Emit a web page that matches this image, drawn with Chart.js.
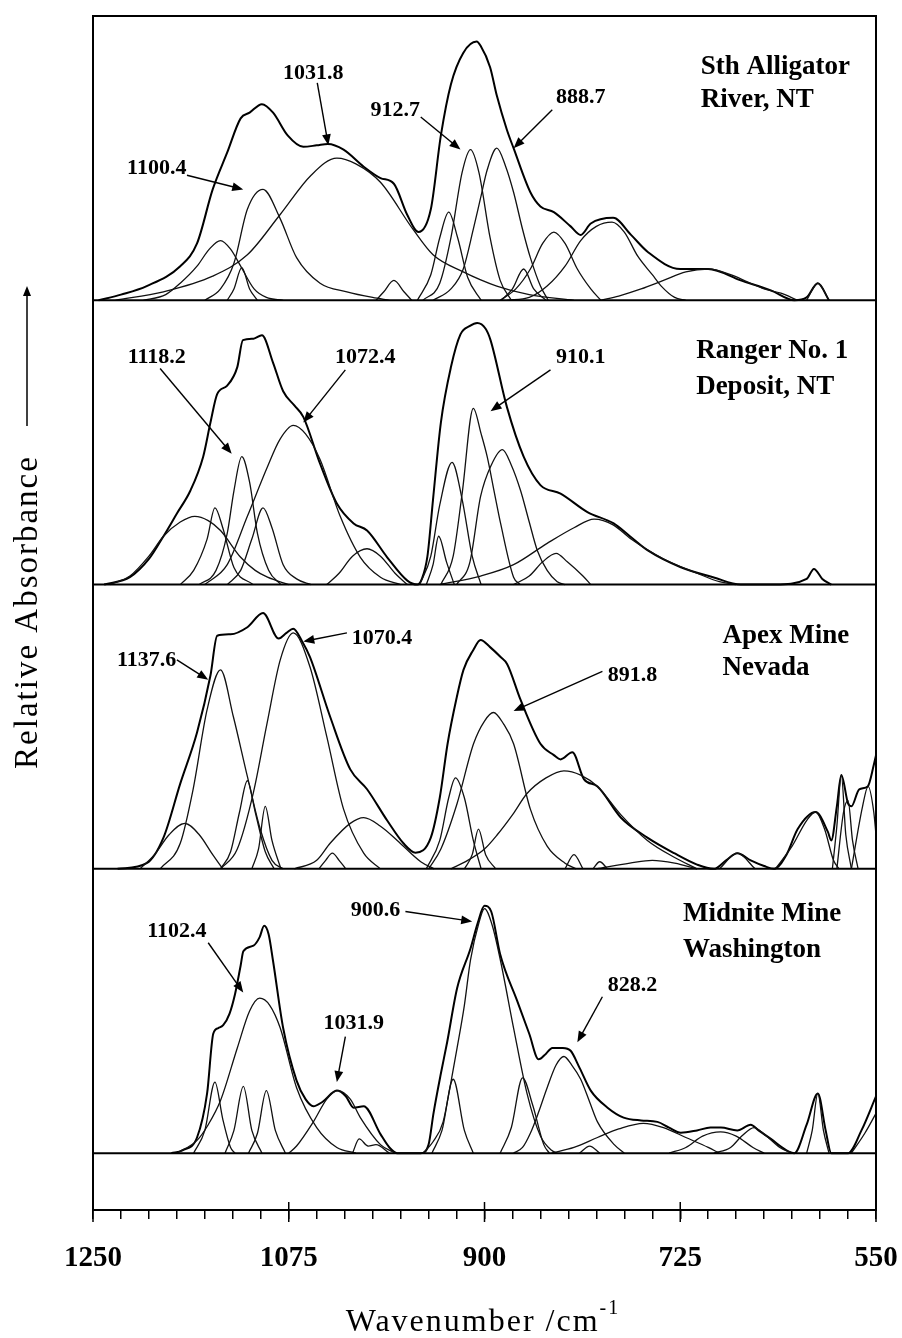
<!DOCTYPE html>
<html>
<head>
<meta charset="utf-8">
<script src="https://cdn.jsdelivr.net/npm/chart.js@4.4.0/dist/chart.umd.min.js"></script>
<style>
  html, body { margin: 0; padding: 0; background: #fff; }
  #wrap { width: 902px; height: 1338px; }
</style>
</head>
<body>
<div id="wrap"><canvas id="spectra" width="902" height="1338"></canvas></div>
<script>
// x: wavenumber (cm-1), y: relative absorbance inside each panel (0 = panel baseline)
const majorTicks = [1250, 1075, 900, 725, 550];
const panelOffsets = [3.2, 2.2, 1.2, 0.2];
const sampleNames = [
    ['Sth Alligator', 'River, NT'],
    ['Ranger No. 1', 'Deposit, NT'],
    ['Apex Mine', 'Nevada'],
    ['Midnite Mine', 'Washington']
];

// Sth Alligator River
const alligatorTotal = [[1245,0],[1225,0.02],[1202,0.05],[1172,0.12],[1157,0.20],[1143,0.39],[1130,0.52],[1118,0.64],[1110,0.66],[1099,0.69],[1089,0.66],[1076,0.58],[1062,0.54],[1050,0.545],[1040,0.55],[1026,0.53],[1008,0.47],[993,0.43],[981,0.41],[969,0.30],[959,0.24],[948,0.32],[939,0.58],[930,0.76],[919,0.87],[907,0.91],[903.5,0.895],[895,0.82],[889,0.72],[880,0.60],[874,0.535],[859,0.38],[850,0.33],[838,0.31],[823,0.26],[814,0.23],[805,0.27],[785,0.29],[769,0.23],[754,0.17],[725,0.11],[700,0.11],[671,0.07],[644,0.035],[623,0],[612,0.01],[602,0.06],[592,0]];
const alligatorBands = [
    [[1205,0],[1185,0.02],[1172,0.06],[1157,0.12],[1146,0.18],[1136,0.21],[1127,0.18],[1118,0.12],[1106,0.04],[1095,0.01],[1080,0]],
    [[1130,0],[1124,0.04],[1117,0.115],[1110,0.04],[1103,0]],
    [[1150,0],[1136,0.04],[1124,0.13],[1112,0.32],[1098,0.39],[1083,0.29],[1068,0.15],[1047,0.06],[1023,0.03],[1000,0.01],[985,0]],
    [[1230,0],[1187,0.03],[1143,0.085],[1112,0.16],[1083,0.30],[1055,0.44],[1032,0.50],[1015,0.48],[993,0.415],[964,0.25],[946,0.16],[919,0.10],[889,0.05],[860,0.02],[820,0]],
    [[997,0],[990,0.03],[981,0.07],[972,0.03],[965,0]],
    [[960,0],[948,0.09],[940,0.22],[932,0.31],[924,0.22],[915,0.08],[903,0]],
    [[955,0],[940,0.06],[930,0.22],[920,0.45],[912.5,0.53],[905,0.45],[895,0.22],[886,0.07],[876,0]],
    [[946,0],[930,0.04],[919,0.11],[910,0.25],[903.5,0.36],[897.5,0.46],[889,0.535],[881,0.47],[874,0.38],[866,0.25],[859,0.15],[850,0.05],[843,0]],
    [[885,0],[875,0.04],[865,0.11],[856,0.04],[845,0]],
    [[886,0],[872,0.04],[859,0.11],[848,0.20],[838,0.24],[828,0.20],[817,0.11],[805,0.04],[796,0]],
    [[880,0],[860,0.01],[844,0.05],[828,0.12],[814,0.21],[800,0.26],[786,0.275],[775,0.24],[763,0.155],[750,0.09],[742,0.05],[730,0.01],[720,0]],
    [[796,0],[780,0.015],[760,0.04],[740,0.07],[720,0.10],[700,0.11],[680,0.09],[665,0.065],[650,0.04],[635,0.025],[620,0]],
    [[612,0],[602,0.06],[592,0]]
];

// Ranger No. 1 Deposit
const rangerTotal = [[1240,0],[1217,0.026],[1200,0.09],[1187,0.17],[1175,0.25],[1163,0.33],[1151.5,0.45],[1145,0.57],[1139,0.67],[1130,0.70],[1121,0.765],[1116,0.86],[1106.5,0.865],[1099,0.877],[1089,0.78],[1080,0.68],[1070,0.63],[1062,0.59],[1047,0.425],[1032,0.285],[1017,0.215],[1005,0.19],[987,0.096],[969,0.014],[960,0],[956,0.02],[951,0.10],[946,0.30],[939,0.57],[930,0.765],[921.5,0.88],[913,0.91],[906.5,0.92],[899,0.90],[894.6,0.86],[880,0.625],[865,0.45],[850,0.35],[832,0.32],[808,0.255],[784.5,0.215],[770,0.17],[754,0.12],[724.5,0.061],[695,0.025],[671,0],[640,0],[612,0.02],[605.5,0.055],[598,0.02],[590,0]];
const rangerBands = [
    [[1235,0],[1217,0.03],[1200,0.10],[1187,0.17],[1172,0.22],[1159,0.24],[1147,0.225],[1136,0.19],[1118,0.096],[1105,0.05],[1094,0.026],[1075,0]],
    [[1172,0],[1160,0.05],[1148,0.16],[1141,0.27],[1134,0.20],[1124,0.06],[1107,0]],
    [[1155,0],[1140,0.05],[1130,0.18],[1124,0.33],[1117,0.45],[1110,0.36],[1103,0.18],[1093,0.05],[1082,0]],
    [[1130,0],[1118,0.05],[1108,0.16],[1098,0.27],[1090,0.20],[1080,0.07],[1068,0.02],[1055,0]],
    [[1150,0],[1130,0.07],[1112,0.24],[1094.5,0.41],[1083,0.51],[1071,0.56],[1060,0.53],[1047,0.44],[1029,0.24],[1011,0.096],[993,0.026],[975,0]],
    [[1041,0],[1030,0.04],[1018,0.10],[1005,0.126],[993,0.10],[980,0.04],[969,0]],
    [[952,0],[946,0.07],[941,0.17],[934,0.08],[927,0]],
    [[958,0],[948,0.10],[940,0.28],[929,0.43],[920,0.30],[911,0.10],[903,0]],
    [[939,0],[928,0.10],[920,0.32],[910,0.62],[903,0.53],[897.6,0.45],[891,0.32],[885.6,0.215],[874,0.026],[868,0]],
    [[925,0],[913,0.08],[903.5,0.31],[894,0.42],[884,0.475],[876,0.42],[867.7,0.33],[860,0.22],[852.8,0.12],[844,0.05],[835,0.01],[828,0]],
    [[874,0],[860,0.03],[848,0.08],[836,0.11],[826,0.08],[812,0.03],[805,0]],
    [[940,0],[903.5,0.03],[874,0.07],[844,0.145],[820,0.20],[802,0.23],[785,0.21],[769,0.16],[740,0.09],[710,0.04],[690,0.01],[675,0]]
];

// Apex Mine, Nevada
const apexTotal = [[1228,0],[1202,0.02],[1187,0.11],[1172,0.30],[1157,0.48],[1145,0.68],[1139,0.82],[1127,0.825],[1112,0.85],[1098,0.90],[1084,0.81],[1077,0.83],[1071,0.845],[1063,0.80],[1056,0.745],[1038,0.535],[1020,0.35],[1005,0.28],[987,0.17],[972.5,0.09],[961.7,0.057],[948,0.11],[940,0.25],[933,0.44],[925,0.60],[918.8,0.70],[910,0.77],[903.5,0.805],[895,0.78],[885.6,0.745],[879.7,0.72],[867.8,0.595],[850,0.44],[838,0.40],[832,0.385],[821.5,0.41],[811,0.315],[799,0.29],[778,0.18],[754.4,0.11],[730.4,0.055],[710,0.015],[695,0],[684,0.03],[674,0.055],[662,0.03],[650,0.01],[641,0],[630,0.05],[620,0.14],[604,0.20],[593,0.13],[590,0.10],[585,0.22],[581,0.33],[575,0.23],[572,0.22],[565,0.28],[557.4,0.29],[552,0.365],[550,0.40]];
const apexBands = [
    [[1208,0],[1195,0.05],[1182,0.12],[1168,0.16],[1155,0.12],[1143,0.05],[1134,0]],
    [[1190,0],[1172,0.09],[1160.5,0.28],[1148,0.56],[1136,0.70],[1124.5,0.535],[1112,0.325],[1100.5,0.14],[1090,0.03],[1080,0]],
    [[1136,0],[1127,0.06],[1119,0.20],[1112,0.31],[1105,0.20],[1096,0.06],[1088,0]],
    [[1108,0],[1102,0.07],[1096,0.22],[1090,0.10],[1082,0]],
    [[1136,0],[1121,0.07],[1106.5,0.27],[1094.5,0.51],[1082.6,0.735],[1071,0.83],[1056,0.71],[1041,0.465],[1026,0.21],[1008,0.055],[993,0]],
    [[1048,0],[1042,0.03],[1036,0.055],[1030,0.03],[1024,0]],
    [[1070,0],[1050,0.03],[1038,0.09],[1020,0.16],[1008,0.18],[993,0.15],[978,0.10],[957,0.025],[945,0]],
    [[952,0],[940,0.10],[932,0.25],[926,0.32],[918,0.25],[910,0.10],[903,0]],
    [[918,0],[911,0.05],[905.4,0.14],[899,0.05],[890,0]],
    [[950,0],[939,0.07],[924.5,0.23],[909.8,0.44],[900,0.52],[892,0.55],[883,0.51],[874,0.44],[859,0.21],[844,0.08],[828,0.02],[818,0]],
    [[930,0],[915,0.03],[900,0.07],[888.6,0.12],[875,0.19],[862,0.265],[845,0.32],[829,0.345],[814,0.33],[799,0.29],[778,0.19],[754.4,0.10],[730,0.04],[710,0]],
    [[828,0],[820,0.05],[812,0]],
    [[803,0],[797,0.025],[790,0]],
    [[800,0],[770,0.02],[750,0.03],[730,0.02],[710,0]],
    [[690,0],[674,0.055],[658,0]],
    [[640,0],[625,0.08],[612,0.17],[604,0.20],[596,0.14],[588,0.03],[583,0]],
    [[589,0],[585,0.15],[581,0.33],[577,0.12],[572,0]],
    [[585,0],[579,0.20],[575,0.24],[571,0.10],[566,0]],
    [[572,0],[562,0.22],[557,0.29],[552,0.20],[550,0.12]]
];

// Midnite Mine, Washington
const midniteTotal = [[1180,0],[1170,0.01],[1157,0.055],[1148,0.21],[1142.5,0.42],[1138,0.44],[1133.6,0.45],[1128,0.49],[1123,0.56],[1118,0.66],[1115.6,0.71],[1106.5,0.73],[1101,0.76],[1097,0.80],[1093,0.77],[1089,0.675],[1080,0.44],[1068,0.255],[1060,0.19],[1053,0.165],[1045,0.18],[1032,0.22],[1024,0.20],[1017,0.16],[1008,0.165],[993,0.067],[985,0.02],[978,0],[957,0],[950,0.03],[945.6,0.14],[939,0.28],[933.4,0.39],[924.5,0.58],[912.5,0.72],[906,0.81],[900,0.87],[894,0.85],[886,0.70],[870.7,0.535],[860,0.42],[851.6,0.33],[845,0.35],[839.4,0.37],[830,0.37],[823,0.36],[815,0.30],[805,0.22],[790,0.16],[775.6,0.125],[760,0.115],[745.4,0.11],[735,0.09],[724.5,0.072],[710,0.08],[698,0.09],[688.7,0.09],[674,0.08],[662,0.10],[655,0.08],[644,0.05],[630,0.01],[623,0],[612,0.10],[602,0.21],[595,0.08],[590,0],[575,0],[563,0.08],[550,0.20]];
const midniteBands = [
    [[1160,0],[1150,0.08],[1141,0.25],[1134,0.12],[1127,0.02],[1123,0]],
    [[1175,0],[1157,0.045],[1147,0.10],[1136,0.185],[1121,0.37],[1110,0.50],[1101,0.545],[1092,0.52],[1082.6,0.44],[1068,0.23],[1050,0.09],[1032,0.02],[1015,0]],
    [[1132,0],[1124,0.08],[1115.6,0.235],[1108,0.08],[1099,0]],
    [[1111,0],[1103,0.07],[1095,0.22],[1087,0.08],[1078,0]],
    [[1075,0],[1068,0.025],[1053,0.11],[1041,0.19],[1031,0.22],[1020,0.19],[1011,0.125],[993,0.03],[980,0]],
    [[1018,0],[1012,0.05],[1004,0.025],[997,0.03],[985,0]],
    [[955,0],[946,0.04],[937,0.11],[930,0.25],[924.5,0.37],[918,0.52],[912.5,0.68],[905,0.81],[900,0.86],[893,0.80],[885.6,0.675],[874,0.44],[862,0.21],[850,0.06],[840,0.01],[835,0]],
    [[947,0],[938,0.08],[928,0.26],[918,0.08],[910,0]],
    [[886,0],[876,0.09],[866,0.265],[857,0.17],[847,0.03],[842,0]],
    [[874,0],[866,0.02],[859,0.07],[852,0.14],[844,0.23],[836,0.31],[829,0.34],[822,0.31],[814,0.26],[806,0.18],[799,0.11],[784,0.03],[775,0]],
    [[840,0],[820,0.02],[799,0.055],[780,0.085],[758,0.105],[740,0.09],[720,0.055],[700,0.02],[690,0]],
    [[815,0],[806,0.025],[797,0]],
    [[735,0],[720,0.02],[705,0.06],[689,0.075],[675,0.06],[660,0.02],[650,0]],
    [[695,0],[680,0.02],[670,0.06],[659,0.09],[648,0.06],[636,0.02],[625,0]],
    [[612,0],[607,0.08],[602,0.21],[597,0.08],[592,0]],
    [[572,0],[560,0.07],[550,0.14]]
];

// peak labels: text position and arrow, in (wavenumber, absorbance) of their panel
const peakLabels = [
    { panel: 0, text: '1031.8', at: [1053, 0.80], from: [1049.5, 0.765], to: [1039.6, 0.545] },
    { panel: 0, text: '912.7', at: [979.7, 0.67], from: [957, 0.645], to: [921.5, 0.53] },
    { panel: 0, text: '1100.4', at: [1193, 0.465], from: [1166, 0.44], to: [1115.7, 0.39] },
    { panel: 0, text: '888.7', at: [814, 0.715], from: [839.4, 0.67], to: [874, 0.535] },
    { panel: 1, text: '1118.2', at: [1193, 0.80], from: [1190, 0.76], to: [1126, 0.46] },
    { panel: 1, text: '1072.4', at: [1006.5, 0.80], from: [1024.4, 0.755], to: [1062, 0.57] },
    { panel: 1, text: '910.1', at: [814, 0.80], from: [841, 0.755], to: [894.6, 0.61] },
    { panel: 2, text: '1137.6', at: [1202, 0.735], from: [1175, 0.735], to: [1147, 0.665] },
    { panel: 2, text: '1070.4', at: [991.6, 0.81], from: [1023, 0.83], to: [1062, 0.80] },
    { panel: 2, text: '891.8', at: [767.8, 0.68], from: [794.6, 0.695], to: [874, 0.555] },
    { panel: 3, text: '1102.4', at: [1175, 0.78], from: [1147, 0.74], to: [1115.7, 0.565] },
    { panel: 3, text: '1031.9', at: [1017, 0.455], from: [1024.4, 0.41], to: [1032, 0.25] },
    { panel: 3, text: '900.6', at: [997.5, 0.855], from: [970.7, 0.85], to: [911, 0.815] },
    { panel: 3, text: '828.2', at: [767.8, 0.59], from: [794.6, 0.55], to: [817, 0.39] }
];
// sample name: left edge wavenumber, line 1 and line 2 heights
const sampleNamePos = [[706.6, 0.82, 0.704], [710.8, 0.82, 0.695], [687.3, 0.82, 0.705], [722.5, 0.84, 0.715]];

const serif = "'Liberation Serif', 'Times New Roman', serif";

function toPoints(pairs, offset) {
    return pairs.map(p => ({ x: p[0], y: p[1] + offset }));
}

// 데이터셋 구성
const totals = [alligatorTotal, rangerTotal, apexTotal, midniteTotal];
const bands = [alligatorBands, rangerBands, apexBands, midniteBands];
const datasets = [];
panelOffsets.forEach((off, i) => {
    datasets.push({
        data: [{ x: 1250, y: off }, { x: 550, y: off }],
        borderColor: '#000', borderWidth: 2, tension: 0
    });
    bands[i].forEach(b => {
        datasets.push({
            data: toPoints(b, off),
            borderColor: '#111', borderWidth: 1.3,
            cubicInterpolationMode: 'monotone'
        });
    });
    datasets.push({
        data: toPoints(totals[i], off),
        borderColor: '#000', borderWidth: 2,
        cubicInterpolationMode: 'monotone'
    });
});

const minorTicks = [];
for (let v = 550; v <= 1250; v += 25) minorTicks.push(v);

function drawArrow(ctx, x1, y1, x2, y2, head) {
    const ang = Math.atan2(y2 - y1, x2 - x1);
    ctx.beginPath();
    ctx.moveTo(x1, y1);
    ctx.lineTo(x2 - Math.cos(ang) * head * 0.8, y2 - Math.sin(ang) * head * 0.8);
    ctx.stroke();
    ctx.beginPath();
    ctx.moveTo(x2, y2);
    ctx.lineTo(x2 - head * Math.cos(ang) + head * 0.4 * Math.sin(ang), y2 - head * Math.sin(ang) - head * 0.4 * Math.cos(ang));
    ctx.lineTo(x2 - head * Math.cos(ang) - head * 0.4 * Math.sin(ang), y2 - head * Math.sin(ang) + head * 0.4 * Math.cos(ang));
    ctx.closePath();
    ctx.fill();
}

const decorations = {
    id: 'decorations',
    afterDraw(chart) {
        const ctx = chart.ctx;
        const xs = chart.scales.x, ys = chart.scales.y;
        const a = chart.chartArea;
        ctx.save();
        ctx.strokeStyle = '#000';
        ctx.fillStyle = '#000';

        // 테두리
        ctx.lineWidth = 2;
        ctx.strokeRect(a.left, a.top, a.right - a.left, a.bottom - a.top);

        // 주 눈금 (축 위아래로)
        ctx.lineWidth = 1.5;
        majorTicks.forEach(v => {
            const px = xs.getPixelForValue(v);
            ctx.beginPath();
            ctx.moveTo(px, a.bottom - 8);
            ctx.lineTo(px, a.bottom + 12);
            ctx.stroke();
        });

        // 피크 라벨 + 화살표
        ctx.font = 'bold 22px ' + serif;
        ctx.textAlign = 'center';
        ctx.textBaseline = 'middle';
        peakLabels.forEach(l => {
            const off = panelOffsets[l.panel];
            ctx.fillText(l.text, xs.getPixelForValue(l.at[0]), ys.getPixelForValue(l.at[1] + off));
            ctx.lineWidth = 1.4;
            drawArrow(ctx,
                xs.getPixelForValue(l.from[0]), ys.getPixelForValue(l.from[1] + off),
                xs.getPixelForValue(l.to[0]), ys.getPixelForValue(l.to[1] + off), 11);
        });

        // 시료 이름
        ctx.font = 'bold 27px ' + serif;
        ctx.textAlign = 'left';
        sampleNames.forEach((lines, i) => {
            const p = sampleNamePos[i];
            const px = xs.getPixelForValue(p[0]);
            ctx.fillText(lines[0], px, ys.getPixelForValue(p[1] + panelOffsets[i]));
            ctx.fillText(lines[1], px, ys.getPixelForValue(p[2] + panelOffsets[i]));
        });

        // y축 제목과 화살표
        ctx.save();
        ctx.translate(37, 612);
        ctx.rotate(-Math.PI / 2);
        ctx.font = '33px ' + serif;
        ctx.letterSpacing = '2px';
        ctx.textAlign = 'center';
        ctx.textBaseline = 'alphabetic';
        ctx.fillText('Relative Absorbance', 0, 0);
        ctx.restore();
        ctx.lineWidth = 1.5;
        drawArrow(ctx, 27, 426, 27, 286, 10);

        // x축 제목
        ctx.textAlign = 'left';
        ctx.textBaseline = 'alphabetic';
        ctx.letterSpacing = '2px';
        const main = 'Wavenumber /cm';
        ctx.font = '32px ' + serif;
        const w1 = ctx.measureText(main).width;
        ctx.font = '20px ' + serif;
        const w2 = ctx.measureText('-1').width;
        const startX = 483 - (w1 + w2) / 2;
        ctx.font = '32px ' + serif;
        ctx.fillText(main, startX, 1331);
        ctx.font = '20px ' + serif;
        ctx.fillText('-1', startX + w1, 1314);
        ctx.restore();
    }
};

new Chart(document.getElementById('spectra'), {
    type: 'line',
    data: { datasets },
    options: {
        responsive: false,
        animation: false,
        devicePixelRatio: 1,
        layout: { padding: { top: 16, right: 26, left: 0, bottom: 0 } },
        elements: { point: { radius: 0 }, line: { fill: false } },
        plugins: { legend: { display: false }, tooltip: { enabled: false } },
        scales: {
            x: {
                type: 'linear',
                reverse: true,
                min: 550,
                max: 1250,
                afterFit: s => { s.height = 128; },
                afterBuildTicks: s => { s.ticks = minorTicks.map(v => ({ value: v })); },
                ticks: {
                    autoSkip: false,
                    maxRotation: 0,
                    padding: 22,
                    color: '#000',
                    font: { family: serif, size: 29, weight: 'bold' },
                    callback: v => majorTicks.includes(v) ? String(v) : ''
                },
                grid: { drawOnChartArea: false, drawTicks: true, tickLength: 9, color: '#000', lineWidth: 1.5 },
                border: { display: true, color: '#000', width: 2 }
            },
            y: {
                type: 'linear',
                min: 0,
                max: 4.2,
                afterFit: s => { s.width = 93; },
                ticks: { display: false },
                grid: { display: false, drawTicks: false },
                border: { display: true, color: '#000', width: 2 }
            }
        }
    },
    plugins: [decorations]
});
</script>
</body>
</html>
